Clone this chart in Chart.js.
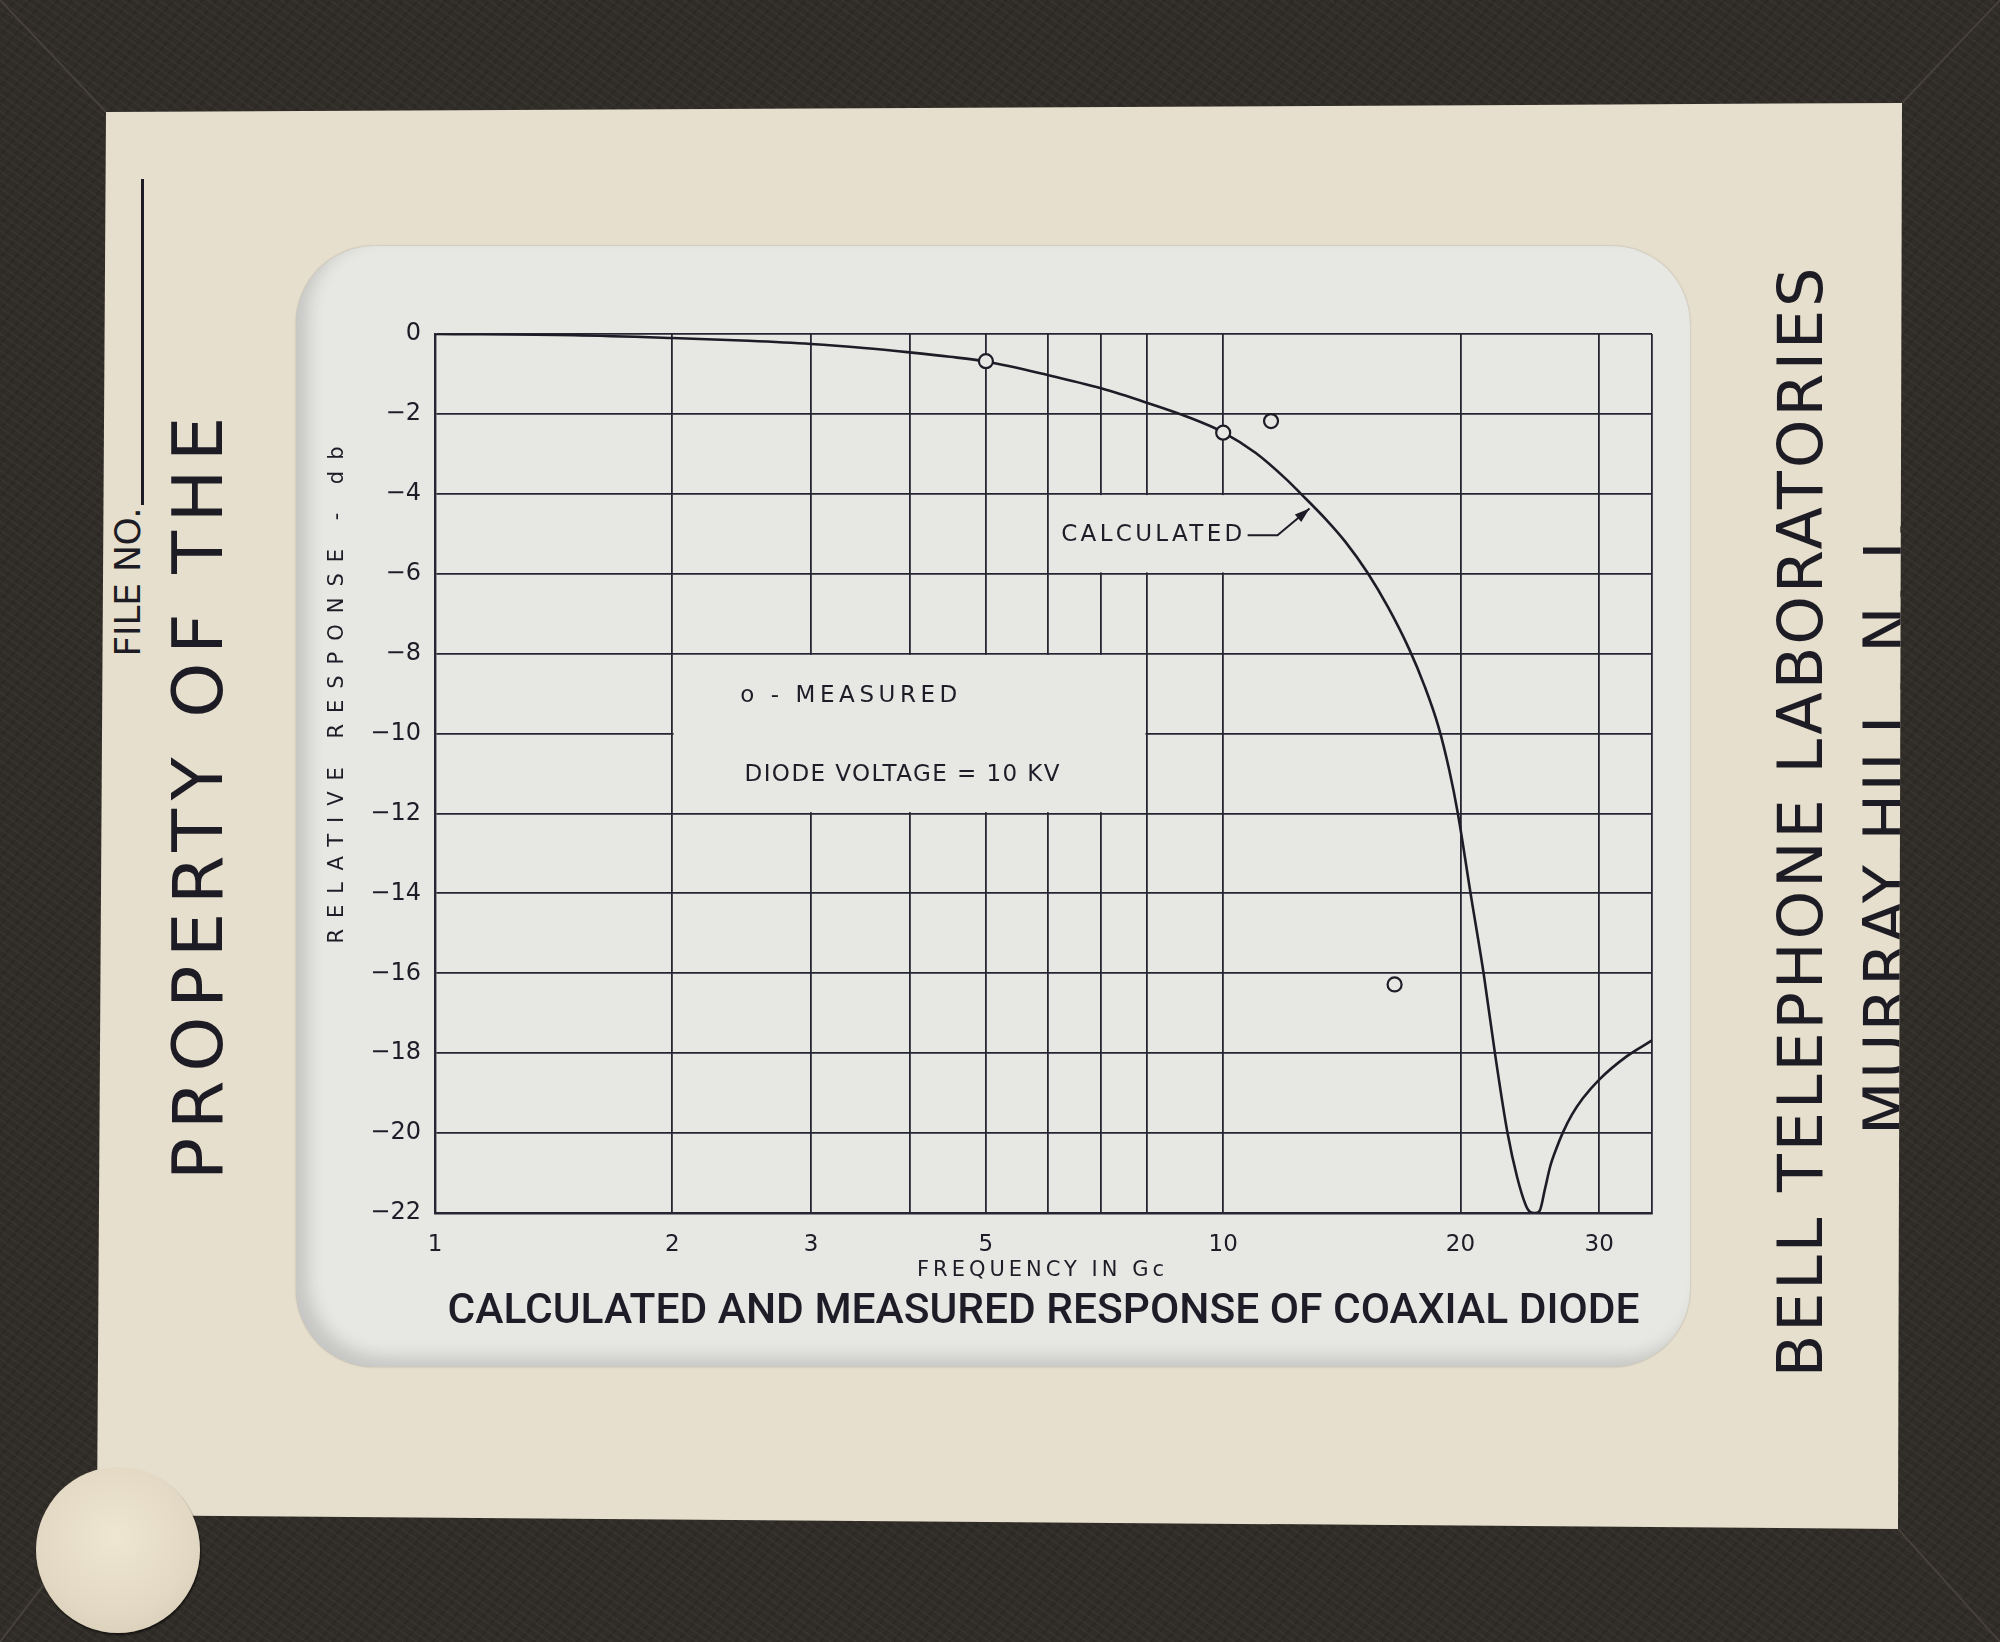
<!DOCTYPE html>
<html>
<head>
<meta charset="utf-8">
<title>Calculated and measured response of coaxial diode</title>
<script src="https://cdn.jsdelivr.net/npm/chart.js@4.4.1/dist/chart.umd.min.js"></script>
<style>
  html, body { margin: 0; padding: 0; }
  body {
    width: 2000px; height: 1642px; position: relative; overflow: hidden;
    background:
      repeating-linear-gradient(35deg, rgba(255,255,255,0.03) 0 2px, transparent 2px 7px),
      repeating-linear-gradient(-50deg, rgba(0,0,0,0.08) 0 3px, transparent 3px 11px),
      #302c27;
    font-family: 'DejaVu Sans', sans-serif;
  }
  #miters { position: absolute; left: 0; top: 0; }
  #mat {
    position: absolute; left: 0; top: 0; width: 2000px; height: 1642px;
    background: #e7dfcd;
    clip-path: polygon(106px 112px, 1902px 103px, 1898px 1529px, 97px 1515px);
  }
  .rot {
    position: absolute; white-space: nowrap; line-height: 1;
    transform: translate(-50%, -50%) rotate(-90deg);
    color: #1d1b24;
  }
  #file-line { position: absolute; left: 141px; top: 179px; width: 3px; height: 326px; background: #1d1b24; }
  #window {
    position: absolute; left: 296px; top: 246px; width: 1394px; height: 1121px;
    border-radius: 78px; background: #e7e7e4;
    box-shadow: inset 12px -10px 16px rgba(70,70,70,0.20), 0 0 2px rgba(0,0,0,0.25);
  }
  #chart { position: absolute; left: 300px; top: 300px; }
  #sticker {
    position: absolute; left: 36px; top: 1467px; width: 164px; height: 166px; border-radius: 50%;
    background: radial-gradient(circle at 48% 42%, #efe6d2 0%, #e2d8c3 60%, #d3c8b1 100%);
    box-shadow: 1px 2px 2px rgba(0,0,0,0.55);
  }
</style>
</head>
<body>
<svg id="miters" width="2000" height="1642">
  <g stroke="#45403a" stroke-width="2">
    <line x1="0" y1="0" x2="106" y2="112"/>
    <line x1="2000" y1="0" x2="1902" y2="103"/>
    <line x1="2000" y1="1642" x2="1898" y2="1529"/>
    <line x1="0" y1="1642" x2="97" y2="1515"/>
  </g>
</svg>

<div id="mat">
  <div class="rot" id="t-file" style="left:128px; top:582px; font-size:36px;">FILE NO.</div>
  <div id="file-line"></div>
  <div class="rot" id="t-prop" style="left:198px; top:794px; font-size:70px;">PROPERTY OF THE</div>
  <div class="rot" id="t-bell" style="left:1801px; top:821px; font-size:62px;">BELL TELEPHONE LABORATORIES</div>
  <div class="rot" id="t-murray" style="left:1887px; top:826px; font-size:62px;">MURRAY HILL, N. J.</div>
</div>

<div id="window"></div>
<canvas id="chart" width="1380" height="1060"></canvas>
<div id="sticker"></div>

<script>
// calculated response (frequency in Gc, response in db)
const calcFreq = [1, 1.5, 2, 2.5, 3, 3.5, 4, 4.5, 5, 6, 7, 8, 9, 10, 11, 12, 12.55, 13.5, 14.3, 15.24,
                  16.2, 17.23, 18.0, 18.77, 19.35, 19.85, 20.6, 21.4, 22.12, 22.95, 23.6, 24.2, 24.5,
                  24.85, 25.2, 25.6, 26.0, 26.5, 27.0, 27.7, 28.6, 30, 32.5, 35];
const calcDb = [0, -0.03, -0.1, -0.17, -0.25, -0.35, -0.46, -0.57, -0.69, -1.03, -1.36, -1.72, -2.07, -2.46,
                -2.98, -3.62, -4.0, -4.64, -5.21, -5.97, -6.85, -7.9, -8.8, -9.85, -10.9, -12.0, -14.0, -16.0,
                -18.0, -20.0, -21.1, -21.8, -21.97, -22.0, -21.95, -21.4, -20.83, -20.36, -19.97, -19.54,
                -19.13, -18.66, -18.08, -17.68];

// measured points
const measFreq = [5, 10, 11.5, 16.5];
const measDb = [-0.68, -2.47, -2.18, -16.28];

// axes
const xTickValues = [1, 2, 3, 4, 5, 6, 7, 8, 10, 20, 30, 35];
const xTickLabels = ['1', '2', '3', '', '5', '', '', '', '10', '20', '30', ''];
const yTickValues = [0, -2, -4, -6, -8, -10, -12, -14, -16, -18, -20, -22];
const yTickLabels = ['0', '\u22122', '\u22124', '\u22126', '\u22128', '\u221210', '\u221212', '\u221214', '\u221216', '\u221218', '\u221220', '\u221222'];

const chartTitle = 'CALCULATED AND MEASURED RESPONSE OF COAXIAL DIODE';
const xTitle = 'FREQUENCY IN Gc';
const yTitle = 'RELATIVE RESPONSE - db';

// grid cells left blank on the original (data coordinates)
const blankBoxes = [
  { x: [2, 8], y: [-8, -12] },
  { x: [6, 20], y: [-4, -6] }
];

const INK = '#1e1c26';
const GRID = '#262633';
const WINDOW_BG = '#e7e7e4';
const LETTERING = 'DejaVu Sans';

// stretch the frame lettering to the lengths seen on the slide
function fitDom(id, len) {
  const el = document.getElementById(id);
  const w = el.offsetWidth;
  const n = el.textContent.length;
  el.style.letterSpacing = ((len - w) / n) + 'px';
}
fitDom('t-file', 149);
fitDom('t-prop', 772);
fitDom('t-bell', 1113);
fitDom('t-murray', 618);

function drawSpaced(ctx, text, x, y, len) {
  ctx.letterSpacing = '0px';
  const w = ctx.measureText(text).width;
  const n = text.length;
  ctx.letterSpacing = (n > 1 ? (len - w) / (n - 1) : 0) + 'px';
  ctx.textAlign = 'left';
  ctx.fillText(text, x, y);
  ctx.letterSpacing = '0px';
}

const slideExtras = {
  id: 'slideExtras',
  beforeDatasetsDraw(chart) {
    const { ctx, scales: { x, y } } = chart;
    ctx.save();
    ctx.fillStyle = WINDOW_BG;
    blankBoxes.forEach(b => {
      const x0 = x.getPixelForValue(b.x[0]) + 1.3, x1 = x.getPixelForValue(b.x[1]) - 1.3;
      const y0 = y.getPixelForValue(b.y[0]) + 1.3, y1 = y.getPixelForValue(b.y[1]) - 1.3;
      ctx.fillRect(x0, y0, x1 - x0, y1 - y0);
    });
    ctx.restore();
  },
  afterDraw(chart) {
    const { ctx, chartArea, scales: { x, y } } = chart;
    ctx.save();
    ctx.fillStyle = INK;
    ctx.strokeStyle = INK;
    ctx.textBaseline = 'middle';

    // legend notes
    ctx.font = '23px "' + LETTERING + '"';
    drawSpaced(ctx, 'o - MEASURED', x.getPixelForValue(2.44), y.getPixelForValue(-9.05), 217);
    drawSpaced(ctx, 'DIODE VOLTAGE = 10 KV', x.getPixelForValue(2.47), y.getPixelForValue(-11.03), 315);

    // calculated label with leader and arrow
    drawSpaced(ctx, 'CALCULATED', x.getPixelForValue(6.23), y.getPixelForValue(-5.04), 181);
    const p1 = [x.getPixelForValue(10.74), y.getPixelForValue(-5.04)];
    const p2 = [x.getPixelForValue(11.72), y.getPixelForValue(-5.04)];
    const p3 = [x.getPixelForValue(12.87), y.getPixelForValue(-4.37)];
    ctx.lineWidth = 2;
    ctx.beginPath();
    ctx.moveTo(p1[0], p1[1]);
    ctx.lineTo(p2[0], p2[1]);
    ctx.lineTo(p3[0], p3[1]);
    ctx.stroke();
    const ang = Math.atan2(p3[1] - p2[1], p3[0] - p2[0]);
    ctx.beginPath();
    ctx.moveTo(p3[0], p3[1]);
    ctx.lineTo(p3[0] - 15 * Math.cos(ang) + 5 * Math.sin(ang), p3[1] - 15 * Math.sin(ang) - 5 * Math.cos(ang));
    ctx.lineTo(p3[0] - 15 * Math.cos(ang) - 5 * Math.sin(ang), p3[1] - 15 * Math.sin(ang) + 5 * Math.cos(ang));
    ctx.closePath();
    ctx.fill();

    // axis titles
    ctx.font = '21px "' + LETTERING + '"';
    const cx = (chartArea.left + chartArea.right) / 2 - 3;
    drawSpaced(ctx, xTitle, cx - 247 / 2, chartArea.bottom + 58, 247);

    ctx.translate(chartArea.left - 97, chartArea.top + 361);
    ctx.rotate(-Math.PI / 2);
    drawSpaced(ctx, yTitle, -497 / 2, 0, 497);
    ctx.restore();
  }
};

new Chart(document.getElementById('chart'), {
  type: 'line',
  data: {
    datasets: [
      {
        label: 'Measured',
        data: measFreq.map((f, i) => ({ x: f, y: measDb[i] })),
        showLine: false,
        pointRadius: 7,
        pointBorderWidth: 2.2,
        pointBorderColor: INK,
        pointBackgroundColor: WINDOW_BG,
        order: 0
      },
      {
        label: 'Calculated',
        data: calcFreq.map((f, i) => ({ x: f, y: calcDb[i] })),
        borderColor: INK,
        borderWidth: 2.6,
        pointRadius: 0,
        cubicInterpolationMode: 'monotone',
        fill: false,
        order: 1
      }
    ]
  },
  options: {
    responsive: false,
    animation: false,
    layout: { padding: { top: 34, right: 28, bottom: 22, left: 0 } },
    plugins: {
      legend: { display: false },
      tooltip: { enabled: false },
      title: {
        display: true,
        position: 'bottom',
        fullSize: false,
        text: chartTitle,
        color: INK,
        font: { family: 'Roboto', size: 42.5, weight: '500' },
        padding: { top: 3, bottom: 0 }
      }
    },
    scales: {
      x: {
        type: 'logarithmic',
        min: 1,
        max: 35,
        afterBuildTicks: s => { s.ticks = xTickValues.map(v => ({ value: v })); },
        afterFit: s => { s.height = 71; },
        grid: { color: GRID, lineWidth: 1.8, drawTicks: false },
        border: { display: true, color: GRID, width: 2.4 },
        ticks: {
          autoSkip: false, maxRotation: 0, minRotation: 0, padding: 18,
          color: INK, font: { family: LETTERING, size: 23 },
          callback: (v, i) => xTickLabels[i]
        }
      },
      y: {
        type: 'linear',
        min: -22,
        max: 0,
        afterBuildTicks: s => { s.ticks = yTickValues.map(v => ({ value: v })); },
        afterFit: s => { s.width = 135; },
        grid: { color: GRID, lineWidth: 1.8, drawTicks: false },
        border: { display: true, color: GRID, width: 2.4 },
        ticks: {
          padding: 14, color: INK, font: { family: LETTERING, size: 24 },
          callback: (v, i) => yTickLabels[i]
        }
      }
    }
  },
  plugins: [slideExtras]
});
</script>
</body>
</html>
